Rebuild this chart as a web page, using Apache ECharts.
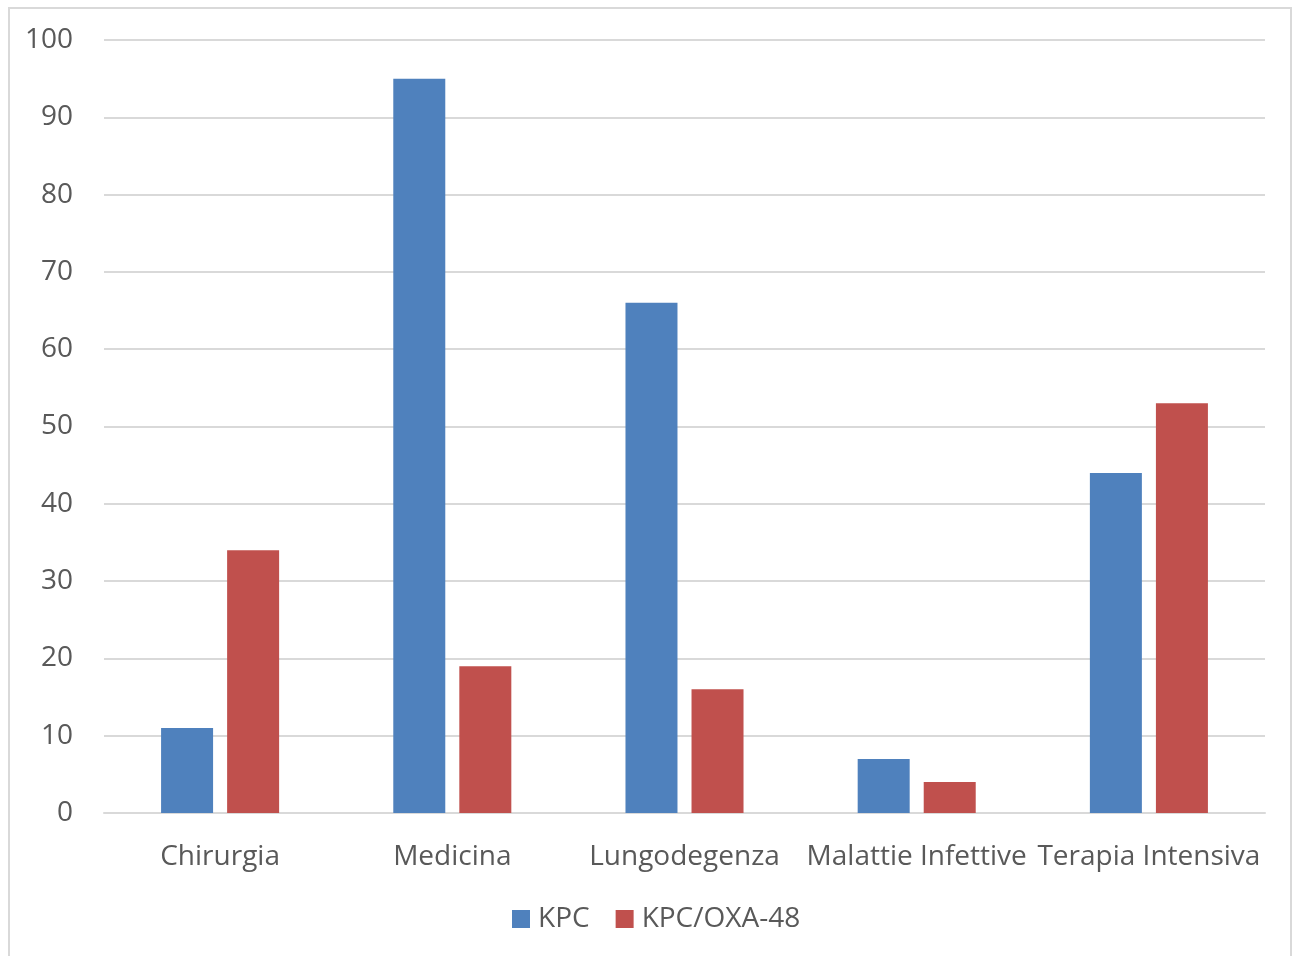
<!DOCTYPE html>
<html>
<head>
<meta charset="utf-8">
<script src="https://cdn.jsdelivr.net/npm/echarts@6/dist/echarts.min.js"></script>
<style>
	html, body { margin: 0; padding: 0; background: #fff; }
	#frame { position: absolute; left: 8px; top: 7px; width: 1284px; height: 960px; border: 2px solid #d9d9d9; box-sizing: border-box; }
	#chart { position: absolute; left: 0; top: 0; width: 1297px; height: 956px; }
</style>
</head>
<body>
<div id="frame"></div>
<div id="chart"></div>
<script>
// reparti e valori
var categories = ['Chirurgia', 'Medicina', 'Lungodegenza', 'Malattie Infettive', 'Terapia Intensiva'];
var kpc = [11, 95, 66, 7, 44];
var kpcOxa = [34, 19, 16, 4, 53];
var seriesNames = ['KPC', 'KPC/OXA-48'];

var myChart = echarts.init(document.getElementById('chart'));
var font = 'Open Sans';
var option = {
	animation: false,
	textStyle: { fontFamily: font },
	color: ['#4f81bd', '#c0504d'],
	grid: {
		left: 104,
		right: 32,
		top: 40,
		bottom: 143,
		containLabel: false
	},
	legend: {
		data: seriesNames,
		bottom: 23,
		left: 512,
		padding: 0,
		itemWidth: 18,
		itemHeight: 18,
		itemGap: 26,
		icon: 'rect',
		textStyle: { color: '#595959', fontSize: 28, fontFamily: font, padding: [0, 0, 0, 3] }
	},
	xAxis: {
		type: 'category',
		data: categories,
		axisTick: { show: false },
		axisLine: { lineStyle: { color: '#d9d9d9', width: 2 } },
		axisLabel: { color: '#595959', fontSize: 28, margin: 30, interval: 0, fontFamily: font }
	},
	yAxis: {
		type: 'value',
		min: 0,
		max: 100,
		interval: 10,
		axisLine: { show: false },
		axisTick: { show: false },
		axisLabel: { color: '#595959', fontSize: 28, margin: 31, fontFamily: font },
		splitLine: { lineStyle: { color: '#d9d9d9', width: 2 } }
	},
	series: [
		{
			name: seriesNames[0],
			type: 'bar',
			data: kpc,
			barWidth: 52,
			barGap: '27%'
		},
		{
			name: seriesNames[1],
			type: 'bar',
			data: kpcOxa,
			barWidth: 52,
			barGap: '27%'
		}
	]
};
myChart.setOption(option);
</script>
</body>
</html>
